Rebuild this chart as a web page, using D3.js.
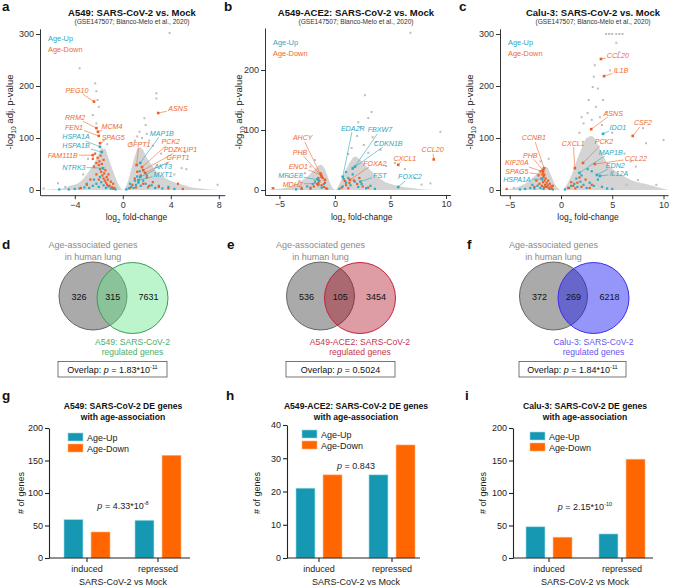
<!DOCTYPE html>
<html><head><meta charset="utf-8">
<script src="https://cdn.jsdelivr.net/npm/d3@7"></script>
<style>body{margin:0;background:#fff}svg text{font-family:"Liberation Sans",Arial,Helvetica,sans-serif}</style>
</head><body><svg id="c" width="685" height="586"></svg>
<script>
// ---------------- DATA ----------------
// Panel a: A549
const aEnv=[[-7,0],[-6,1],[-5,3],[-4.4,8],[-3.6,15],[-2.75,38],[-2.3,55],[-2,70],[-1.8,80],[-1.5,80],[-1.2,62],[-0.9,42],[-0.6,24],[-0.3,8],[0,0],[0.25,6],[0.5,22],[0.8,48],[1.1,72],[1.3,82],[1.6,80],[2,62],[2.4,48],[2.8,36],[3.4,25],[4.2,16],[5,10],[5.6,6],[6.5,3],[8,0]];
const aGray=[[3.9,302],[2.8,186],[2.8,176],[1.8,138],[1.4,112],[1.2,103],[1.9,125],[0.7,90],[-3.6,234],[-2.3,205],[-2.2,190],[-2.1,173],[-2.0,160],[-2.5,144],[-2.2,128],[5.2,73],[4.9,42],[3.7,52],[5.3,40],[6.4,19],[7.9,10],[-5.4,13],[-4.8,6],[-6.6,3],[2.2,95],[2.5,85],[1.0,95],[-1.6,95],[-2.9,60],[-3.3,30],[3.2,70],[4.3,30],[-1.3,88],[2.0,108],[1.6,100]];
const aDown=[[-2.5,60],[-2.3,70],[-2.2,52],[-2.1,62],[-2.0,48],[-1.95,55],[-1.9,40],[-1.85,66],[-1.8,35],[-1.75,50],[-1.7,28],[-1.65,42],[-1.6,22],[-1.55,32],[-1.5,18],[-1.45,38],[-1.4,14],[-1.35,25],[-1.3,10],[-1.25,20],[-1.2,30],[-1.1,8],[-1.0,16],[-0.9,5],[-0.8,12],[-0.7,4],[-2.4,45],[-2.2,30],[-2.7,20],[-3.0,10],[-3.5,4],[-2.0,20],[-1.6,58],[0.8,10],[1.0,22],[1.2,35],[1.3,18],[1.5,28],[1.7,12],[2.0,24],[2.2,8],[2.5,15],[3.0,6],[0.6,4],[1.1,5],[3.8,3],[5.0,2],[4.6,12]];
const aUp=[[-4.5,1],[-4,2],[-3.6,3],[-3.2,5],[-2.8,4],[-2.5,8],[-2.2,12],[-2,6],[-1.8,15],[-1.6,9],[-1.4,4],[-1.2,7],[-1,3],[-0.8,2],[-0.6,1],[-5.3,1],[-3,12],[-2.4,20],[-1.9,25],[0.3,1],[0.5,3],[0.7,6],[0.9,4],[1.1,10],[1.3,14],[1.5,8],[1.7,18],[1.9,12],[2.1,5],[2.4,9],[2.7,4],[3.0,8],[3.3,3],[3.8,6],[4.3,2],[1.2,26],[1.4,36],[2.0,28],[0.6,12],[1.0,18]];
const aGenes=[["PEG10","down",-2.4,170],["RRM2","down",-2.2,119],["FEN1","down",-2.0,104],["MCM4","down",-2.07,112],["SPAG5","down",-1.9,90],["HSPA1A","up",-1.9,83],["HSPA1B","up",-1.75,73],["FAM111B","down",-2.5,67],["NTRK3","up",-1.65,42],["ASNS","down",2.95,148],["MAP1B","up",1.45,52],["GFPT1","down",1.15,48],["PCK2","down",1.6,44],["PDZK1IP1","down",1.7,38],["GFPT1","down",1.85,33],["AKT3","up",1.45,25],["MXT1","up",1.3,19]];
const aGeneAt=[[-3.82,192],[-3.98,140],[-4.07,121],[-0.9,123],[-0.8,100],[-3.9,102],[-3.9,86],[-5.0,67],[-4.07,44],[4.6,156],[3.25,109.5],[1.35,88],[4.0,93.5],[4.8,78],[4.6,62],[3.35,46],[3.35,30.5]];

// Panel b: A549-ACE2
const bEnv=[[-6.3,0],[-5,2],[-4,6],[-3.3,12],[-2.5,22],[-1.8,35],[-1.3,42],[-1,38],[-0.7,25],[-0.4,10],[-0.15,2],[0,0],[0.2,3],[0.5,14],[0.9,30],[1.4,48],[1.8,56],[2.3,50],[2.8,40],[3.5,28],[4.3,16],[5.2,9],[6.5,4],[8,1],[10,0]];
const bGray=[[6.8,262],[9.5,97],[2.7,158],[3.3,130],[3.0,120],[2.1,113],[2.3,105],[3.4,88],[3.7,80],[4.1,67],[8.6,11],[7.8,9],[5.4,45],[6.3,35],[-4.2,22],[-2.7,28],[-2.2,39],[2.6,75],[1.5,70],[2.0,90],[3.0,62],[4.6,40],[-1.8,50],[-3.2,15],[7.2,20],[-5.5,3],[1.2,60]];
const bDown=[[-1.3,28],[-1.1,20],[-0.9,12],[-1.4,15],[-1.2,8],[-1,5],[-0.8,3],[-1.6,10],[-1.9,6],[-2.2,4],[-3,2],[-1.5,20],[-5.6,3],[0.6,4],[1,8],[1.3,12],[1.7,16],[2,10],[2.5,6],[3,4],[1.2,3],[2.2,20],[0.9,15]];
const bUp=[[-3,3],[-2.5,6],[-2,10],[-1.8,14],[-1.5,8],[-1.2,4],[-1,10],[-0.7,2],[-2.2,2],[-3.5,1],[-1.6,18],[0.4,2],[0.7,6],[1,12],[1.2,20],[1.4,8],[1.6,26],[1.8,14],[2.1,5],[2.4,10],[2.8,3],[3.2,7],[3.6,2],[1.0,30],[0.8,18]];
const bGenes=[["AHCY","down",-1.2,22],["PHB","down",-0.9,17],["ENO1","down",-1.25,25],["MFGE8","up",-1.5,17],["MDH2","down",-1.5,11],["EDA2R","up",0.7,22],["FBXW7","up",1.8,39],["CDKN1B","up",1.6,36],["FOXA2","down",1.35,17],["FST","up",2.3,14],["FOXC2","up",5.7,5],["CXCL1","down",5.7,42],["CCL20","down",8.9,51]];
const bGeneAt=[[-2.9,87],[-3.15,63],[-3.3,40],[-4.0,25],[-3.8,10],[1.6,103],[4.05,100],[4.8,78],[3.6,45],[4.05,25],[6.75,22],[6.3,53],[8.8,67]];

// Panel c: Calu-3
const cEnv=[[-6,0],[-5,2],[-4.2,6],[-3.5,12],[-2.8,22],[-2.2,34],[-1.7,44],[-1.4,44],[-1.1,34],[-0.8,20],[-0.5,8],[-0.2,2],[0,0],[0.3,3],[0.7,15],[1.1,32],[1.5,55],[2,80],[2.5,100],[3,104],[3.5,92],[4,70],[4.5,52],[5.2,38],[6,28],[7,18],[8.2,12],[9.5,5],[10.5,0]];
const cGray=[[4.4,300],[4.7,300],[5.0,300],[5.4,300],[5.7,300],[6.0,300],[5.4,283],[5.7,265],[3.1,198],[3.6,195],[3.2,218],[2.7,173],[3.4,160],[4.1,173],[2.6,148],[3.0,135],[2.2,128],[8.0,119],[8.3,90],[10.0,96],[7.3,45],[7.5,19],[6.4,10],[9.3,10],[-2.5,19],[-2.2,10],[-4.6,4],[3.8,140],[4.5,150],[4.0,125],[5.0,110],[6.2,70],[6.8,55],[1.8,110],[2.0,140],[3.3,240],[4.8,230],[-1.2,60],[-2.0,55]];
const cDown=[[-2.2,28],[-2,36],[-1.9,22],[-1.8,30],[-1.75,15],[-1.7,25],[-1.6,18],[-1.55,10],[-1.5,22],[-1.45,6],[-1.4,14],[-1.3,9],[-1.25,18],[-1.2,4],[-1.1,12],[-1.0,7],[-0.9,3],[-0.8,8],[-2.4,18],[-2.1,12],[-1.85,8],[-1.65,5],[-5.3,2],[-2.6,6],[0.8,4],[1.2,8],[1.6,14],[2,6],[2.4,20],[3,10],[1,15],[1.4,3],[2.8,4],[1.8,24]];
const cUp=[[-4,1],[-3.5,2],[-3,4],[-2.6,3],[-2.3,8],[-2,4],[-1.7,2],[-1.4,6],[-1.1,2],[-0.8,1],[-2.8,10],[0.4,1],[0.7,4],[1,8],[1.3,12],[1.6,6],[1.9,16],[2.2,10],[2.5,4],[2.8,14],[3.2,8],[3.6,20],[4,6],[4.5,3],[5,2],[2,28],[1.5,22],[3,36],[2.6,40]];
const cGenes=[["CCL20","down",3.9,252],["IL1B","down",4.2,219],["ASNS","down",2.95,117],["IDO1","up",4.1,108],["CSF2","down",7.0,104],["PCK2","down",2.15,52],["CXCL1","down",1.35,42],["MAP1B","up",1.8,33],["CCL22","down",3.3,50],["EDN2","up",3.5,29],["IL12A","up",3.8,27],["CCNB1","down",-1.65,42],["PHB","down",-1.75,38],["KIF20A","down",-1.75,35],["SPAG5","down",-1.65,29],["HSPA1A","up",-1.85,21]];
const cGeneAt=[[5.55,258],[5.85,229],[5.1,148],[5.55,121],[8.0,129],[4.2,93],[1.2,90],[4.85,73],[7.3,61],[5.3,48],[5.65,31.5],[-2.65,100],[-3.0,67],[-4.3,52],[-4.3,36.5],[-4.3,21]];

// Venn counts
const vennD=[326,315,7631], vennE=[536,105,3454], vennF=[372,269,6218];

// Bar data
const barGroups=["induced","repressed"];
const barSeries=["Age-Up","Age-Down"];
const gUp=[59,58], gDown=[40,158];
const hUp=[21,25], hDown=[25,34];
const iUp=[48,37], iDown=[32,152];

// ---------------- DRAW ----------------
const svg=d3.select("#c");
const TEAL="#2aaec4", ORANGE="#f05d26", TEALT="#2aa8c0", ORANGET="#ee6a2c";
const BTEAL="#1697b2", BORANGE="#ff6600";

function rich(g,x,y,parts,o={}){
  const size=o.size||9;
  const t=g.append("text").attr("x",x).attr("y",y).attr("font-size",size)
    .attr("fill",o.fill||"#222").attr("text-anchor",o.anchor||"middle");
  if(o.weight)t.attr("font-weight",o.weight);
  if(o.rotate)t.attr("transform",`rotate(-90,${x},${y})`);
  let shift=0;
  parts.forEach(p=>{
    if(typeof p==="string")p={t:p};
    const s=t.append("tspan").text(p.t);
    let want=0;
    if(p.sub){s.attr("font-size",size*0.7);want=size*0.3;}
    if(p.sup){s.attr("font-size",size*0.62);want=-size*0.4;}
    if(want!==shift){s.attr("dy",want-shift);shift=want;}
    if(p.it)s.attr("font-style","italic");
  });
  return t;
}

function panelLabel(ch,x,y){
  svg.append("text").attr("x",x).attr("y",y).attr("font-size",13.5).attr("font-weight","bold").attr("fill","#111").text(ch);
}

function volcano(o){
  const g=svg.append("g");
  const x=d3.scaleLinear().domain(o.xd).range(o.xr);
  const y=d3.scaleLinear().domain(o.yd).range(o.yr);
  g.append("path").datum(o.env)
    .attr("d",d3.area().x(d=>x(d[0])).y0(y(0)).y1(d=>y(d[1])).curve(d3.curveMonotoneX))
    .attr("fill","#d4d4d4");
  const sq=(sel,data,col,s)=>sel.selectAll(null).data(data).join("rect")
    .attr("x",d=>x(d[0])-s/2).attr("y",d=>y(d[1])-s/2).attr("width",s).attr("height",s).attr("fill",col);
  sq(g.append("g"),o.gray,"#bdbdbd",2);
  sq(g.append("g"),o.up,TEAL,2.2);
  sq(g.append("g"),o.down,ORANGE,2.2);
  // labelled genes
  o.genes.forEach((d,i)=>{
    const col=d[1]==="up"?TEALT:ORANGET;
    const px=x(d[2]),py=y(d[3]);
    const lx=x(o.at[i][0]),ly=y(o.at[i][1]);
    const t=g.append("text").attr("x",lx).attr("y",ly).attr("dy","0.35em").attr("text-anchor","middle")
      .attr("font-size",7.1).attr("font-style","italic").attr("fill",col).text(d[0]);
    const b=t.node().getBBox();
    const dx=px-lx,dy=py-ly;
    const tt=Math.min(Math.abs(dx)>0?(b.width/2+1)/Math.abs(dx):1e9,Math.abs(dy)>0?(b.height/2)/Math.abs(dy):1e9);
    if(tt<1){
      g.insert("line","text").attr("x1",lx+dx*tt).attr("y1",ly+dy*tt).attr("x2",px).attr("y2",py)
        .attr("stroke",col).attr("stroke-width",0.6);
    }
    g.append("rect").attr("x",px-1.3).attr("y",py-1.3).attr("width",2.6).attr("height",2.6).attr("fill",d[1]==="up"?TEAL:ORANGE);
  });
  // axes
  const xa=g.append("g").attr("transform",`translate(0,${o.yr[0]})`)
    .call(d3.axisBottom(x).tickValues(o.xt).tickSize(4).tickPadding(2).tickSizeOuter(0));
  const ya=g.append("g").attr("transform",`translate(${o.xr[0]},0)`)
    .call(d3.axisLeft(y).tickValues(o.yt).tickSize(4).tickPadding(2).tickSizeOuter(0));
  [xa,ya].forEach(a=>{a.selectAll("path,line").attr("stroke","#333");a.selectAll("text").attr("font-size",9).attr("fill","#333").attr("font-family",'"Liberation Sans",Arial,sans-serif');});
  // legend
  g.append("text").attr("x",o.leg[0]).attr("y",o.leg[1]).attr("font-size",7.4).attr("fill",TEALT).text("Age-Up");
  g.append("text").attr("x",o.leg[0]).attr("y",o.leg[1]+11).attr("font-size",7.4).attr("fill",ORANGET).text("Age-Down");
  // titles
  const cx=o.tx;
  rich(g,cx,16,[o.title],{size:9.5,weight:"bold",fill:"#111"});
  rich(g,cx,23.5,["(GSE147507; Blanco-Melo et al., 2020)"],{size:6.6,fill:"#333"});
  rich(g,o.ylx,112,["-log",{t:"10",sub:1}," adj. p-value"],{size:9.5,rotate:1,fill:"#222"});
  rich(g,(o.xr[0]+o.xr[1])/2+4,220,["log",{t:"2",sub:1}," fold-change"],{size:8.5,fill:"#222"});
}

volcano({xd:[-6.9,8.5],xr:[40,224.8],yd:[-10,310],yr:[195.2,28.8],xt:[-4,0,4,8],yt:[0,100,200,300],
  env:aEnv,gray:aGray,up:aUp,down:aDown,genes:aGenes,at:aGeneAt,leg:[48,41],tx:132,ylx:13,
  title:"A549: SARS-CoV-2 vs. Mock"});
volcano({xd:[-6.3,10.4],xr:[265,450.4],yd:[-8.3,270],yr:[195,28],xt:[-5,0,5,10],yt:[0,100,200],
  env:bEnv,gray:bGray,up:bUp,down:bDown,genes:bGenes,at:bGeneAt,leg:[273,45],tx:356,ylx:242,
  title:"A549-ACE2: SARS-CoV-2 vs. Mock"});
volcano({xd:[-5.95,10.45],xr:[500,668.1],yd:[-10,310],yr:[195.2,28.8],xt:[-5,0,5,10],yt:[0,100,200,300],
  env:cEnv,gray:cGray,up:cUp,down:cDown,genes:cGenes,at:cGeneAt,leg:[508,45],tx:593,ylx:473,
  title:"Calu-3: SARS-CoV-2 vs. Mock"});

panelLabel("a",2,11);panelLabel("b",224,11);panelLabel("c",459,11);

// Venn diagrams
function venn(o){
  const g=svg.append("g");
  rich(g,o.gx,248,["Age-associated genes"],{size:9,fill:"#8a8a8a"});
  rich(g,o.gx,260,["in human lung"],{size:9,fill:"#8a8a8a"});
  g.append("circle").attr("cx",o.gx).attr("cy",296).attr("r",34).attr("fill","#aaaaaa").attr("stroke","#666").attr("stroke-width",1);
  g.append("circle").attr("cx",o.cx).attr("cy",298).attr("r",35.5).attr("fill",o.fill).attr("fill-opacity",o.op).attr("stroke",o.stroke).attr("stroke-width",1);
  const pos=[o.gx-14,(o.gx+o.cx)/2,o.cx+16];
  o.vals.forEach((v,i)=>g.append("text").attr("x",pos[i]).attr("y",299.5).attr("text-anchor","middle").attr("font-size",9).attr("fill","#111").text(v));
  rich(g,o.cx,345,[o.name+": SARS-CoV-2"],{size:8.6,fill:o.tcol});
  rich(g,o.cx,354.5,["regulated genes"],{size:8.6,fill:o.tcol});
  g.append("rect").attr("x",o.bx[0]).attr("y",361.5).attr("width",o.bx[1]-o.bx[0]).attr("height",15.5).attr("fill","#fff").attr("stroke","#555").attr("stroke-width",0.8);
  rich(g,(o.bx[0]+o.bx[1])/2,373,o.p,{size:9,fill:"#111"});
}
venn({gx:93,cx:132.5,vals:vennD,fill:"rgb(96,230,133)",op:0.42,stroke:"#3b9b55",tcol:"#4fae68",name:"A549",bx:[58,167],
  p:["Overlap: ",{t:"p",it:1}," = 1.83*10",{t:"-11",sup:1}]});
venn({gx:320.5,cx:360,vals:vennE,fill:"rgb(170,0,24)",op:0.39,stroke:"#c4203c",tcol:"#c43650",name:"A549-ACE2",bx:[286,395],
  p:["Overlap: ",{t:"p",it:1}," = 0.5024"]});
venn({gx:553.5,cx:593.5,vals:vennF,fill:"rgb(22,22,244)",op:0.45,stroke:"#3b2bf0",tcol:"#6655f2",name:"Calu-3",bx:[519,626],
  p:["Overlap: ",{t:"p",it:1}," = 1.84*10",{t:"-11",sup:1}]});
panelLabel("d",2,249);panelLabel("e",227,249);panelLabel("f",467,249);

// Bar charts
function bars(o){
  const g=svg.append("g");
  const y=d3.scaleLinear().domain([0,o.ymax]).range([558,o.ytop]);
  const x=d3.scaleBand().domain(barGroups).range(o.br).padding(0);
  const s=d3.scaleBand().domain(barSeries).range([-23,23]).paddingInner(0.3);
  const rows=barGroups.map((grp,i)=>({grp,vals:[o.up[i],o.down[i]]}));
  rows.forEach(r=>{
    g.selectAll(null).data(barSeries.map((k,j)=>({k,v:r.vals[j]}))).join("rect")
      .attr("x",d=>x(r.grp)+x.bandwidth()/2+s(d.k)).attr("width",s.bandwidth())
      .attr("y",d=>y(d.v)).attr("height",d=>558-y(d.v))
      .attr("fill",d=>d.k==="Age-Up"?BTEAL:BORANGE)
      .attr("stroke",d=>d.k==="Age-Up"?"#9adbe8":"#ffb27a").attr("stroke-width",0.6);
  });
  const ya=g.append("g").attr("transform",`translate(${o.x0},0)`).call(d3.axisLeft(y).tickValues(o.yt).tickSize(4).tickPadding(2).tickSizeOuter(0));
  ya.selectAll("path,line").attr("stroke","#222").attr("stroke-width",1.1);
  ya.selectAll("text").attr("font-size",9).attr("fill","#222").attr("font-family",'"Liberation Sans",Arial,sans-serif');
  g.append("line").attr("x1",o.x0).attr("x2",o.xend).attr("y1",558).attr("y2",558).attr("stroke","#222").attr("stroke-width",1.1);
  barGroups.forEach(grp=>{
    const cx=x(grp)+x.bandwidth()/2;
    g.append("line").attr("x1",cx).attr("x2",cx).attr("y1",558).attr("y2",562).attr("stroke","#222").attr("stroke-width",1.1);
    g.append("text").attr("x",cx).attr("y",572).attr("text-anchor","middle").attr("font-size",9).attr("fill","#222").text(grp);
  });
  rich(g,o.tx,584.5,["SARS-CoV-2 vs Mock"],{size:9,fill:"#222"});
  rich(g,o.ylx,493,["# of genes"],{size:9,fill:"#222",rotate:1});
  rich(g,o.tx,409,[o.name+": SARS-CoV-2 DE genes"],{size:8.6,weight:"bold",fill:"#111"});
  rich(g,o.tx,419.5,["with age-association"],{size:8.6,weight:"bold",fill:"#111"});
  // legend
  barSeries.forEach((k,j)=>{
    g.append("rect").attr("x",o.leg[0]).attr("y",o.leg[1]+j*11).attr("width",15).attr("height",8)
      .attr("fill",j===0?BTEAL:BORANGE).attr("stroke",j===0?"#9adbe8":"#ffb27a").attr("stroke-width",0.6);
    g.append("text").attr("x",o.leg[0]+19).attr("y",o.leg[1]+j*11+7.5).attr("font-size",9).attr("fill","#222").text(k);
  });
  rich(g,o.tx,o.py,o.p,{size:9,fill:"#222"});
}
bars({name:"A549",up:gUp,down:gDown,ymax:200,ytop:428,yt:[0,50,100,150,200],x0:49,xend:190,br:[51.5,193.5],tx:123,ylx:24,leg:[68,433],py:509,
  p:[{t:"p",it:1}," = 4.33*10",{t:"-8",sup:1}]});
bars({name:"A549-ACE2",up:hUp,down:hDown,ymax:40,ytop:425,yt:[0,10,20,30,40],x0:287,xend:420,br:[282.5,428.5],tx:356,ylx:260,leg:[302,430],py:469,
  p:[{t:"p",it:1}," = 0.843"]});
bars({name:"Calu-3",up:iUp,down:iDown,ymax:200,ytop:428,yt:[0,50,100,150,200],x0:513,xend:653,br:[512.5,658.5],tx:585,ylx:486,leg:[530,432],py:510,
  p:[{t:"p",it:1}," = 2.15*10",{t:"-10",sup:1}]});
panelLabel("g",2,400);panelLabel("h",226,400);panelLabel("i",465,400);
</script></body></html>
